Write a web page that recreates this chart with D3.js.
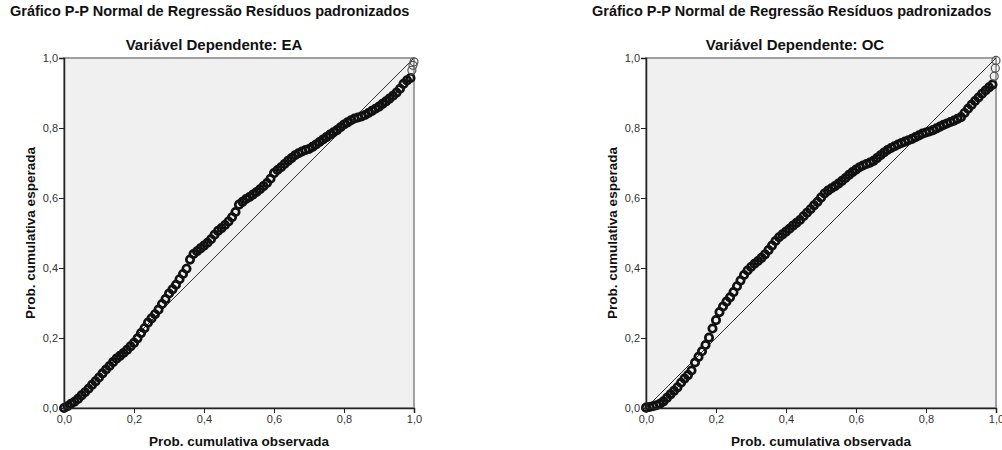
<!DOCTYPE html>
<html><head><meta charset="utf-8">
<script src="https://cdn.jsdelivr.net/npm/d3@7"></script>
<style>body{margin:0;background:#fff} text{font-family:"Liberation Sans",Arial,sans-serif}</style>
</head><body><svg id="c" width="1002" height="450"></svg>
<script>
const chartTitle = "Gráfico P-P Normal de Regressão Resíduos padronizados";
const subtitles = ["Variável Dependente: EA", "Variável Dependente: OC"];
const xAxisTitle = "Prob. cumulativa observada";
const yAxisTitle = "Prob. cumulativa esperada";
const tickValues = [0, 0.2, 0.4, 0.6, 0.8, 1.0];
const tickLabels = ["0,0", "0,2", "0,4", "0,6", "0,8", "1,0"];

const eaObserved = [0.00,0.01,0.02,0.03,0.04,0.05,0.06,0.07,0.08,0.09,
 0.10,0.11,0.12,0.13,0.14,0.15,0.16,0.17,0.18,0.19,
 0.20,0.21,0.22,0.23,0.24,0.25,0.26,0.27,0.28,0.29,
 0.30,0.31,0.32,0.33,0.34,0.35,0.36,0.37,0.38,0.39,
 0.40,0.41,0.42,0.43,0.44,0.45,0.46,0.47,0.48,0.49,
 0.50,0.51,0.52,0.53,0.54,0.55,0.56,0.57,0.58,0.59,
 0.60,0.61,0.62,0.63,0.64,0.65,0.66,0.67,0.68,0.69,
 0.70,0.71,0.72,0.73,0.74,0.75,0.76,0.77,0.78,0.79,
 0.80,0.81,0.82,0.83,0.84,0.85,0.86,0.87,0.88,0.89,
 0.90,0.91,0.92,0.93,0.94,0.95,0.96,0.97,0.98,0.99,
 0.994,0.997,1.000];
const eaExpected = [0.000,0.005,0.012,0.018,0.026,0.036,0.045,0.055,0.066,0.076,
 0.087,0.099,0.110,0.120,0.131,0.141,0.149,0.157,0.166,0.176,
 0.186,0.199,0.214,0.228,0.244,0.256,0.268,0.281,0.297,0.311,
 0.327,0.339,0.352,0.368,0.383,0.398,0.424,0.440,0.448,0.456,
 0.464,0.472,0.482,0.495,0.506,0.514,0.523,0.533,0.545,0.560,
 0.581,0.589,0.597,0.603,0.610,0.617,0.625,0.634,0.643,0.655,
 0.671,0.680,0.688,0.697,0.706,0.714,0.722,0.728,0.733,0.737,
 0.740,0.746,0.753,0.760,0.767,0.774,0.781,0.788,0.794,0.802,
 0.810,0.816,0.822,0.827,0.830,0.833,0.837,0.843,0.849,0.855,
 0.861,0.869,0.876,0.884,0.892,0.901,0.912,0.926,0.936,0.943,
 0.965,0.979,0.989];

const ocObserved = [0.00,0.01,0.02,0.03,0.04,0.05,0.06,0.07,0.08,0.09,
 0.10,0.11,0.12,0.13,0.14,0.15,0.16,0.17,0.18,0.19,
 0.20,0.21,0.22,0.23,0.24,0.25,0.26,0.27,0.28,0.29,
 0.30,0.31,0.32,0.33,0.34,0.35,0.36,0.37,0.38,0.39,
 0.40,0.41,0.42,0.43,0.44,0.45,0.46,0.47,0.48,0.49,
 0.50,0.51,0.52,0.53,0.54,0.55,0.56,0.57,0.58,0.59,
 0.60,0.61,0.62,0.63,0.64,0.65,0.66,0.67,0.68,0.69,
 0.70,0.71,0.72,0.73,0.74,0.75,0.76,0.77,0.78,0.79,
 0.80,0.81,0.82,0.83,0.84,0.85,0.86,0.87,0.88,0.89,
 0.90,0.91,0.92,0.93,0.94,0.95,0.96,0.97,0.98,0.99,
 0.995,0.998,1.000];
const ocExpected = [0.001,0.003,0.005,0.008,0.012,0.019,0.029,0.039,0.049,0.059,
 0.072,0.084,0.094,0.107,0.130,0.146,0.162,0.180,0.201,0.227,
 0.251,0.274,0.290,0.304,0.316,0.331,0.348,0.364,0.380,0.393,
 0.403,0.412,0.420,0.429,0.439,0.451,0.464,0.477,0.488,0.496,
 0.504,0.512,0.521,0.529,0.537,0.548,0.558,0.568,0.579,0.589,
 0.601,0.613,0.621,0.628,0.634,0.641,0.649,0.657,0.666,0.674,
 0.681,0.688,0.693,0.697,0.701,0.706,0.714,0.722,0.730,0.737,
 0.743,0.748,0.753,0.757,0.761,0.765,0.769,0.774,0.779,0.784,
 0.787,0.790,0.794,0.799,0.804,0.809,0.813,0.817,0.821,0.826,
 0.831,0.843,0.855,0.866,0.877,0.887,0.898,0.907,0.916,0.924,
 0.948,0.971,0.993];

const svg = d3.select("#c");

function panel(opts) {
  const {left, top, size, sub, subX, titleX, obs, exp} = opts;
  const x = d3.scaleLinear().domain([0, 1]).range([left, left + size]);
  const y = d3.scaleLinear().domain([0, 1]).range([top + size, top]);

  svg.append("text").attr("x", titleX).attr("y", 16)
    .attr("font-size", 14.5).attr("font-weight", "bold").attr("fill", "#111")
    .text(chartTitle);
  svg.append("text").attr("x", subX).attr("y", 50).attr("text-anchor", "middle")
    .attr("font-size", 15).attr("font-weight", "bold").attr("fill", "#111")
    .text(sub);

  svg.append("rect").attr("x", left).attr("y", top).attr("width", size).attr("height", size)
    .attr("fill", "#f0f0f0").attr("stroke", "#a0a0a0").attr("stroke-width", 2);

  svg.append("line").attr("x1", x(0)).attr("y1", y(0)).attr("x2", x(1)).attr("y2", y(1))
    .attr("stroke", "#333").attr("stroke-width", 1);

  const pts = obs.map((d, i) => [d, exp[i]]);
  const n = pts.length;
  svg.append("g").selectAll("circle").data(pts).join("circle")
    .attr("cx", d => x(d[0])).attr("cy", d => y(d[1]))
    .attr("r", (d, i) => i >= n - 3 ? 4 : 3.7)
    .attr("fill", "none")
    .attr("stroke", (d, i) => i >= n - 3 ? "#555" : "#111")
    .attr("stroke-width", (d, i) => i >= n - 3 ? 1.2 : 2.7);

  const ax = svg.append("g").attr("transform", `translate(0,${top + size})`)
    .call(d3.axisBottom(x).tickValues(tickValues).tickFormat((d, i) => tickLabels[i]).tickSize(5).tickPadding(2));
  const ay = svg.append("g").attr("transform", `translate(${left},0)`)
    .call(d3.axisLeft(y).tickValues(tickValues).tickFormat((d, i) => tickLabels[i]).tickSize(5).tickPadding(1));
  [ax, ay].forEach(a => {
    a.select(".domain").attr("stroke", "#222").attr("stroke-width", 1.5);
    a.selectAll(".tick line").attr("stroke", "#222");
    a.selectAll(".tick text").attr("fill", "#333").attr("font-size", 11)
      .attr("font-family", "'Liberation Sans', Arial, sans-serif");
  });

  svg.append("text").attr("x", left + size / 2).attr("y", 446).attr("text-anchor", "middle")
    .attr("font-size", 13.5).attr("font-weight", "bold").attr("fill", "#111").text(xAxisTitle);
  svg.append("text").attr("transform", `translate(${left - 29},${top + size / 2}) rotate(-90)`)
    .attr("text-anchor", "middle")
    .attr("font-size", 13.5).attr("font-weight", "bold").attr("fill", "#111").text(yAxisTitle);
}

panel({left: 64, top: 58, size: 350, sub: subtitles[0], subX: 214, titleX: 10, obs: eaObserved, exp: eaExpected});
panel({left: 646, top: 58, size: 350, sub: subtitles[1], subX: 795, titleX: 592, obs: ocObserved, exp: ocExpected});
</script></body></html>
